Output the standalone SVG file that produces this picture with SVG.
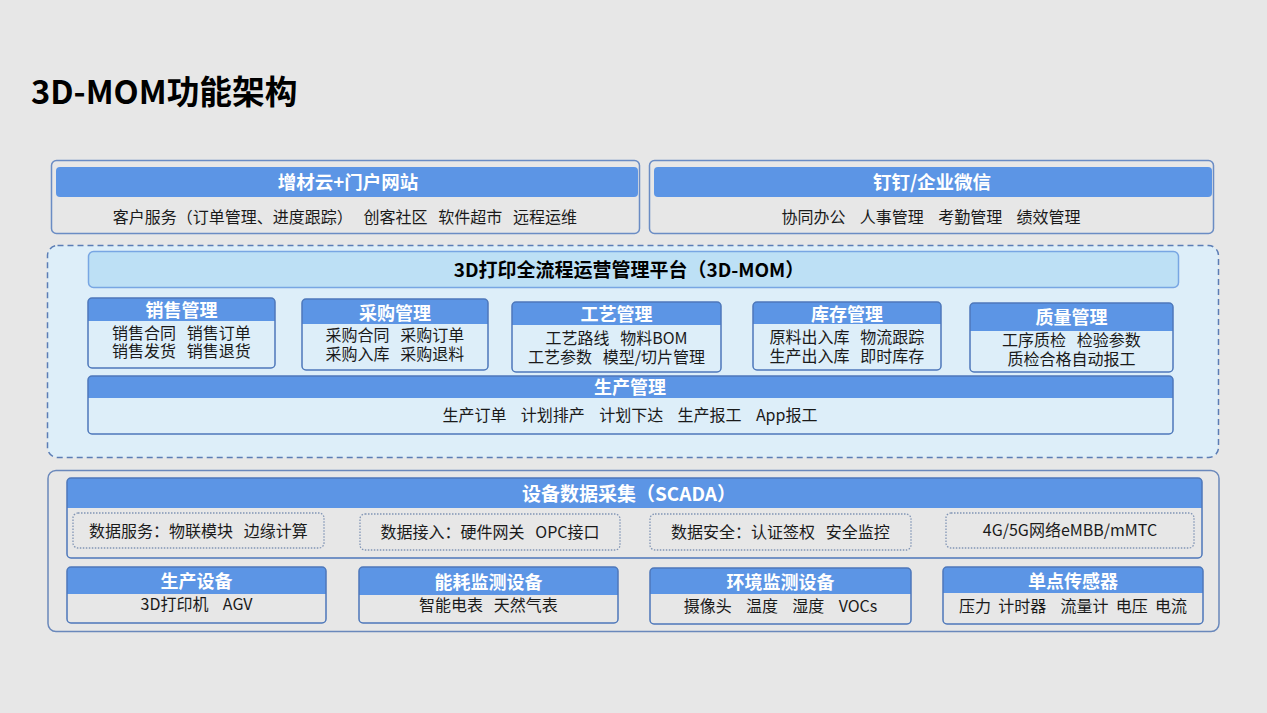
<svg xmlns="http://www.w3.org/2000/svg" width="1267" height="713" viewBox="0 0 1267 713">
<style>
text{font-family:"Noto Sans CJK SC","Liberation Sans",sans-serif}
.title{font-size:32.7px;font-weight:bold;fill:#000}
.hdr{fill:#5c95e5}
.box{fill:none;stroke:#4d77ba;stroke-width:1.5}
.ht{font-size:18px;font-weight:bold;fill:#fff;text-anchor:middle}
.bt{font-size:16px;fill:#1a1a1a;text-anchor:middle;white-space:pre}
.dot{fill:none;stroke:#8195b5;stroke-width:1.3;stroke-dasharray:1.5 1.5}
</style>
<rect width="1267" height="713" fill="#e7e7e7"/>
<text class="title" x="31" y="104">3D-MOM功能架构</text>

<g id="top-left">
<rect x="51.5" y="160.5" width="588" height="73" rx="5" class="box" style="stroke:#6a8cc4"/>
<rect x="56" y="167" width="582" height="30" rx="4" class="hdr"/>
<text class="ht" x="348" y="189" style="font-size:18.5px">增材云+门户网站</text>
<text class="bt" x="345" y="223" xml:space="preserve">客户服务（订单管理、进度跟踪）   创客社区   软件超市   远程运维</text>
</g>
<g id="top-right">
<rect x="649.5" y="160.5" width="564" height="73" rx="5" class="box" style="stroke:#6a8cc4"/>
<rect x="654" y="167" width="558" height="30" rx="4" class="hdr"/>
<text class="ht" x="932" y="189" style="font-size:18.5px">钉钉/企业微信</text>
<text class="bt" x="931" y="223" xml:space="preserve">协同办公    人事管理    考勤管理    绩效管理</text>
</g>

<g id="mom-platform">
<rect x="47.5" y="245.5" width="1171" height="212" rx="10" fill="#ddeef9" stroke="#5b7db5" stroke-width="1.5" stroke-dasharray="6 4"/>
<rect x="88.5" y="251.5" width="1090" height="36" rx="5" fill="#bde0f5" stroke="#78a6e3" stroke-width="1.5"/>
<text x="629" y="277" style="font-size:19px;font-weight:bold;fill:#000;text-anchor:middle">3D打印全流程运营管理平台（3D-MOM）</text>
</g>

<g id="sales">
<path class="hdr" d="M88,321V302Q88,298 92,298H271Q275,298 275,302V321Z"/>
<rect x="88" y="298" width="187" height="70" rx="4" class="box"/>
<text class="ht" x="181.5" y="317">销售管理</text>
<text class="bt" xml:space="preserve"><tspan x="181.5" y="339">销售合同   销售订单</tspan><tspan x="181.5" y="357">销售发货   销售退货</tspan></text>
</g>
<g id="purchase">
<path class="hdr" d="M302,324V303Q302,299 306,299H484Q488,299 488,303V324Z"/>
<rect x="302" y="299" width="186" height="71" rx="4" class="box"/>
<text class="ht" x="395" y="320">采购管理</text>
<text class="bt" xml:space="preserve"><tspan x="395" y="341">采购合同   采购订单</tspan><tspan x="395" y="360">采购入库   采购退料</tspan></text>
</g>
<g id="process">
<path class="hdr" d="M512,325V306Q512,302 516,302H717Q721,302 721,306V325Z"/>
<rect x="512" y="302" width="209" height="70" rx="4" class="box"/>
<text class="ht" x="616.5" y="321">工艺管理</text>
<text class="bt" xml:space="preserve"><tspan x="616.5" y="344">工艺路线   物料BOM</tspan><tspan x="616.5" y="363">工艺参数   模型/切片管理</tspan></text>
</g>
<g id="inventory">
<path class="hdr" d="M753,324V306Q753,302 757,302H937Q941,302 941,306V324Z"/>
<rect x="753" y="302" width="188" height="68" rx="4" class="box"/>
<text class="ht" x="847" y="321">库存管理</text>
<text class="bt" xml:space="preserve"><tspan x="847" y="343">原料出入库   物流跟踪</tspan><tspan x="847" y="362">生产出入库   即时库存</tspan></text>
</g>
<g id="quality">
<path class="hdr" d="M970,331V307Q970,303 974,303H1169Q1173,303 1173,307V331Z"/>
<rect x="970" y="303" width="203" height="69" rx="4" class="box"/>
<text class="ht" x="1071.5" y="324">质量管理</text>
<text class="bt" xml:space="preserve"><tspan x="1071.5" y="346">工序质检   检验参数</tspan><tspan x="1071.5" y="365">质检合格自动报工</tspan></text>
</g>
<g id="production">
<path class="hdr" d="M88,398V380Q88,376 92,376H1169Q1173,376 1173,380V398Z"/>
<rect x="88" y="376" width="1085" height="58" rx="4" class="box"/>
<text class="ht" x="630" y="394">生产管理</text>
<text class="bt" x="630" y="421" xml:space="preserve">生产订单    计划排产    计划下达    生产报工    App报工</text>
</g>

<g id="device-layer">
<rect x="48" y="470.5" width="1171" height="161" rx="8" fill="none" stroke="#6a88bb" stroke-width="1.5"/>
</g>
<g id="scada">
<path class="hdr" d="M67,508V482Q67,478 71,478H1198Q1202,478 1202,482V508Z"/>
<rect x="67" y="478" width="1135" height="80" rx="4" class="box"/>
<text class="ht" x="629" y="501" style="font-size:19px">设备数据采集（SCADA）</text>
<rect x="73" y="513" width="251" height="35" rx="5" class="dot"/>
<text class="bt" x="198.5" y="537" xml:space="preserve">数据服务：物联模块   边缘计算</text>
<rect x="360" y="514" width="260" height="36" rx="5" class="dot"/>
<text class="bt" x="490" y="538" xml:space="preserve">数据接入：硬件网关   OPC接口</text>
<rect x="650" y="514" width="261" height="36" rx="5" class="dot"/>
<text class="bt" x="780.5" y="538" xml:space="preserve">数据安全：认证签权   安全监控</text>
<rect x="946" y="513" width="248" height="35" rx="5" class="dot"/>
<text class="bt" x="1070" y="536">4G/5G网络eMBB/mMTC</text>
</g>
<g id="prod-equipment">
<path class="hdr" d="M67,594V571Q67,567 71,567H322Q326,567 326,571V594Z"/>
<rect x="67" y="567" width="259" height="56" rx="4" class="box"/>
<text class="ht" x="196.5" y="588">生产设备</text>
<text class="bt" x="196.5" y="610" xml:space="preserve">3D打印机    AGV</text>
</g>
<g id="energy">
<path class="hdr" d="M359,595V571Q359,567 363,567H614Q618,567 618,571V595Z"/>
<rect x="359" y="567" width="259" height="56" rx="4" class="box"/>
<text class="ht" x="488.5" y="589">能耗监测设备</text>
<text class="bt" x="488.5" y="611" xml:space="preserve">智能电表   天然气表</text>
</g>
<g id="environment">
<path class="hdr" d="M650,594V572Q650,568 654,568H907Q911,568 911,572V594Z"/>
<rect x="650" y="568" width="261" height="56" rx="4" class="box"/>
<text class="ht" x="780.5" y="589">环境监测设备</text>
<text class="bt" x="780.5" y="612" xml:space="preserve">摄像头    温度    湿度    VOCs</text>
</g>
<g id="sensor">
<path class="hdr" d="M943,593V571Q943,567 947,567H1199Q1203,567 1203,571V593Z"/>
<rect x="943" y="567" width="260" height="57" rx="4" class="box"/>
<text class="ht" x="1073" y="588">单点传感器</text>
<text class="bt" x="1073" y="612" xml:space="preserve">压力  计时器    流量计  电压  电流</text>
</g>
<g id="connectors"></g>
</svg>
